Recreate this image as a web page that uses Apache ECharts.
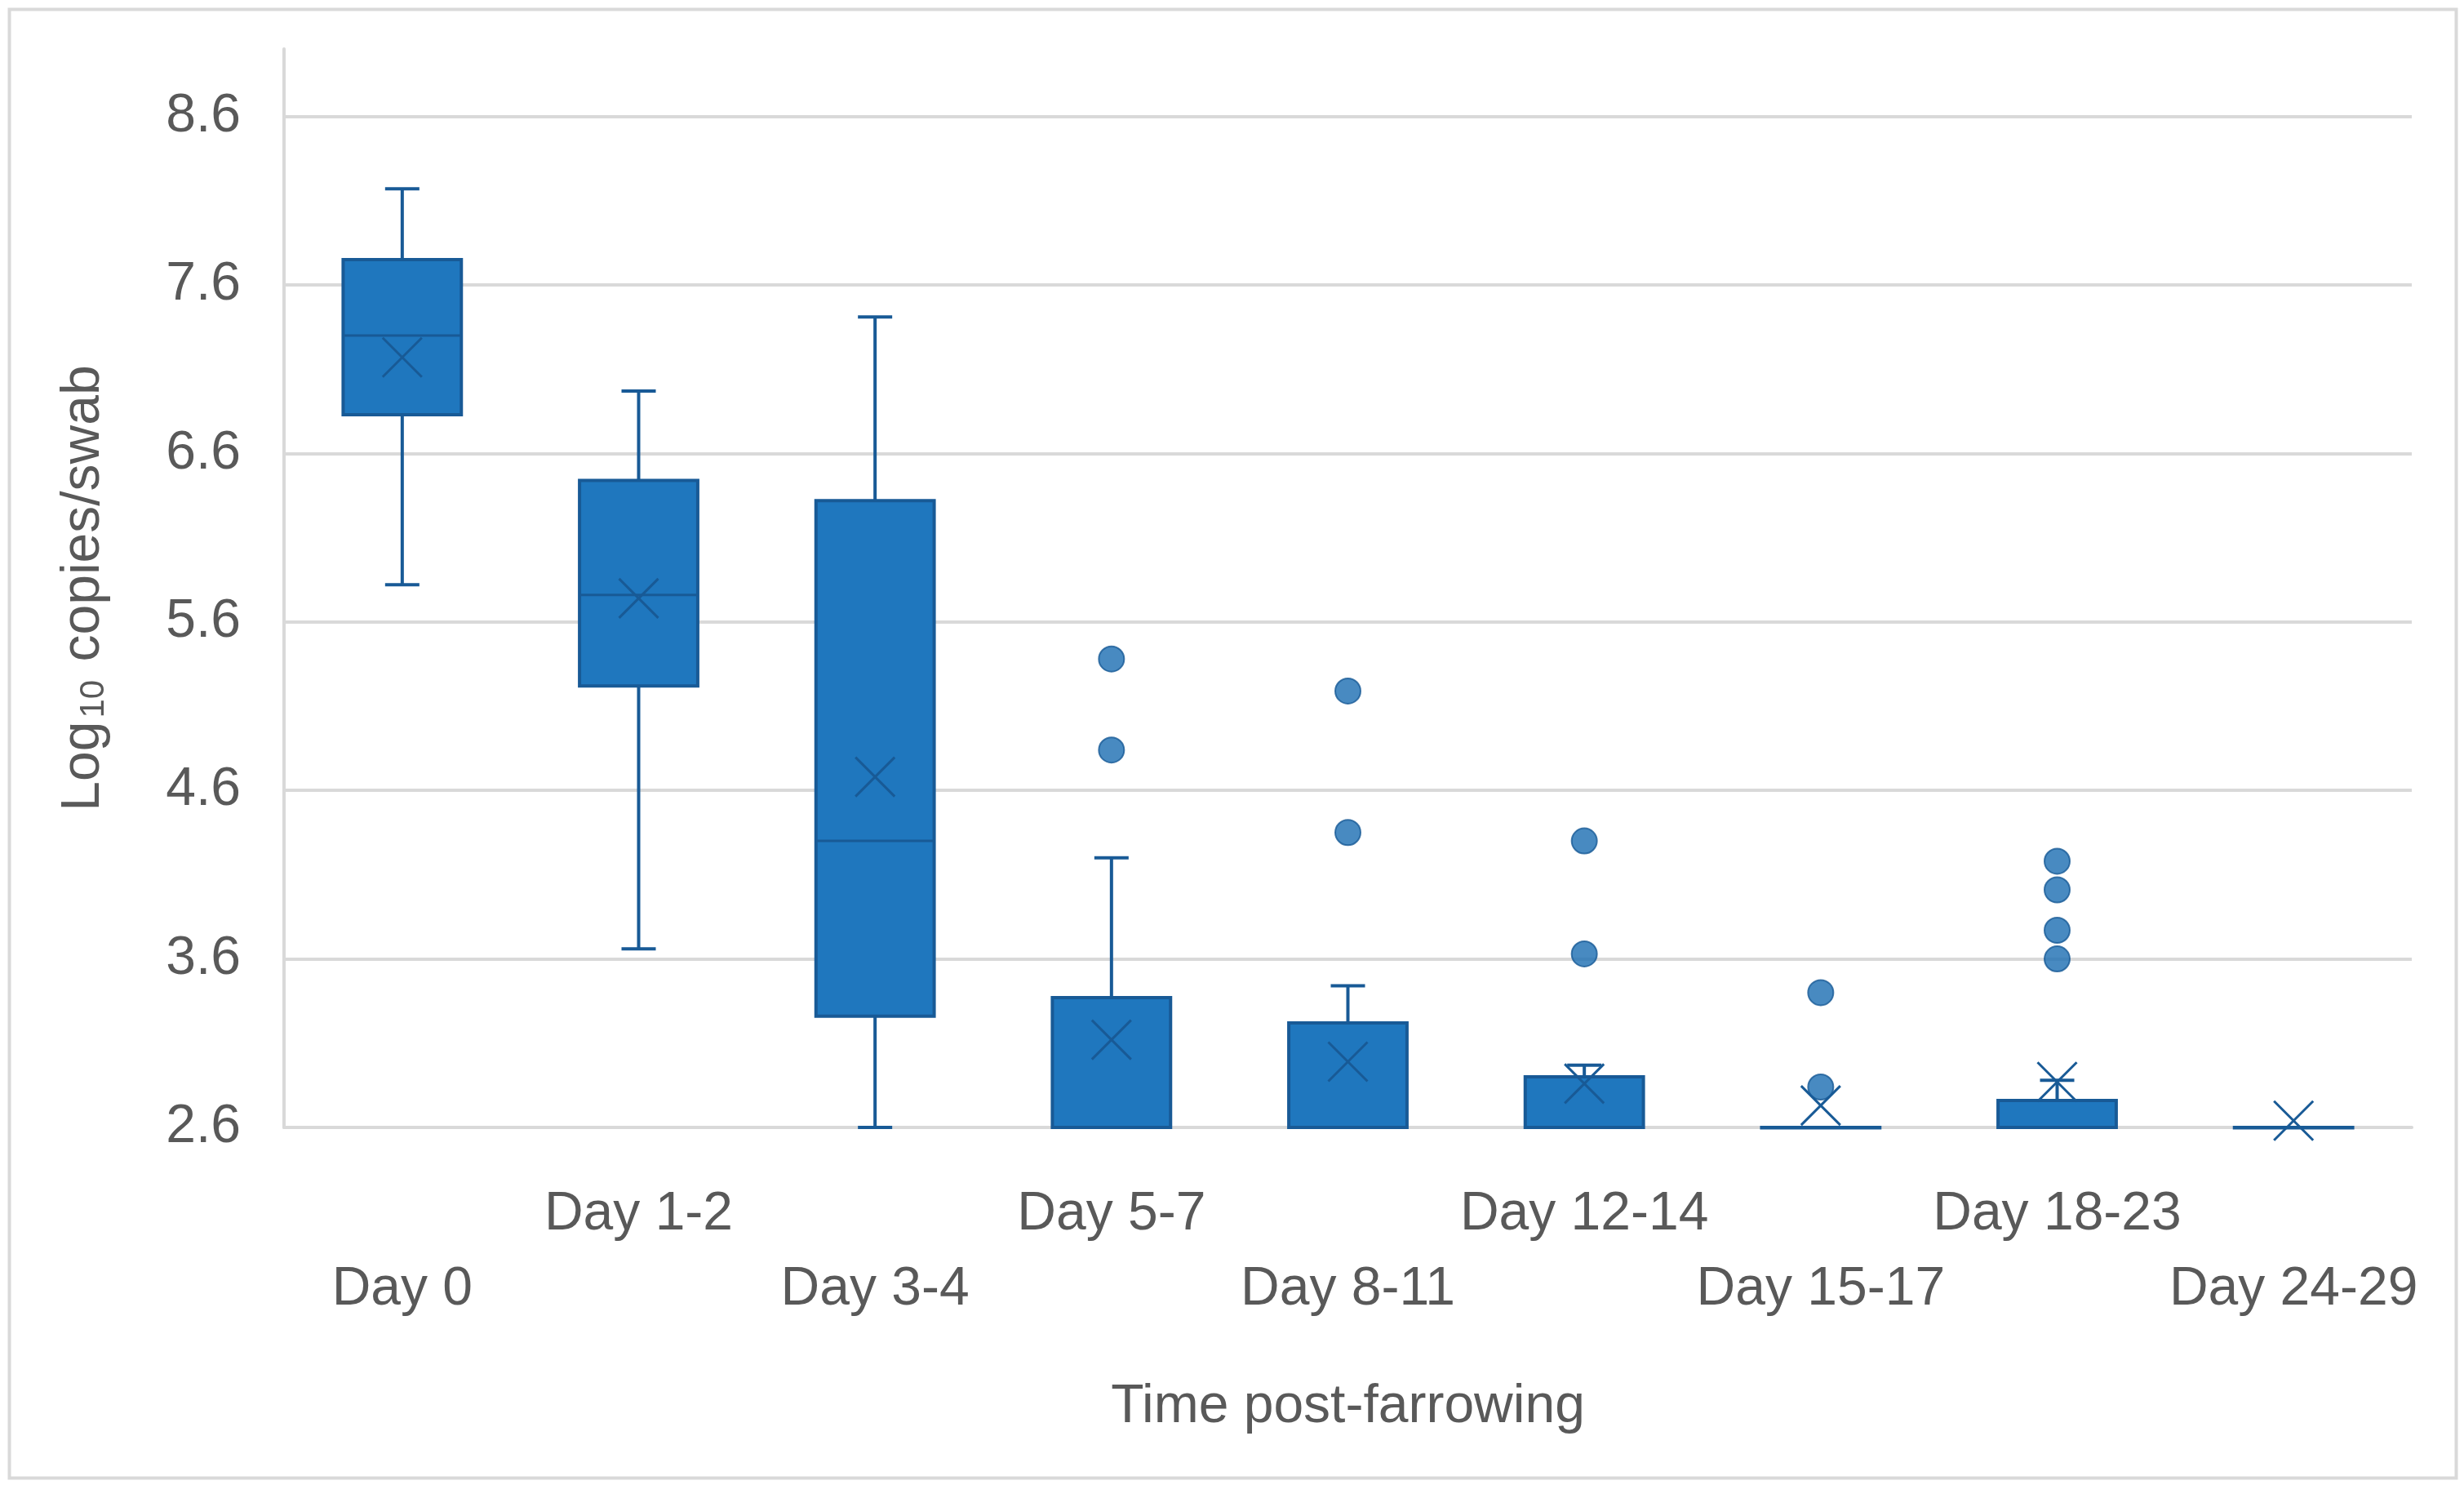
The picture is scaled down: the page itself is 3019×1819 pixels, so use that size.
<!DOCTYPE html>
<html>
<head>
<meta charset="utf-8">
<script src="https://cdn.jsdelivr.net/npm/echarts@6/dist/echarts.min.js"></script>
<style>
html,body{margin:0;padding:0;background:#fff;}
#chart{width:3019px;height:1819px;}
</style>
</head>
<body>
<div id="chart"></div>
<script>
const categories = ['Day 0','Day 1-2','Day 3-4','Day 5-7','Day 8-11','Day 12-14','Day 15-17','Day 18-23','Day 24-29'];
const mins    = [5.82, 3.66, 2.60, 2.60, 2.60, 2.60, 2.60, 2.60, 2.60];
const q1s     = [6.83, 5.22, 3.26, 2.60, 2.60, 2.60, 2.60, 2.60, 2.60];
const medians = [7.30, 5.76, 4.30, 2.60, 2.60, 2.60, 2.60, 2.60, 2.60];
const q3s     = [7.75, 6.44, 6.32, 3.37, 3.22, 2.90, 2.60, 2.76, 2.60];
const maxs    = [8.17, 6.97, 7.41, 4.20, 3.44, 2.97, 2.60, 2.88, 2.60];
const means   = [7.17, 5.74, 4.68, 3.12, 2.99, 2.86, 2.73, 2.87, 2.64];
const outliers = [
  [3, 5.38], [3, 4.84],
  [4, 5.19], [4, 4.35],
  [5, 4.30], [5, 3.63],
  [6, 3.40], [6, 2.84],
  [7, 4.18], [7, 4.01], [7, 3.77], [7, 3.60]
];
const yTicks = {min: 2.6, max: 9.0, interval: 1};

const boxData = categories.map((c, i) => [i, mins[i], q1s[i], medians[i], q3s[i], maxs[i], means[i]]);

const FILL = '#1F77BE';
const EDGE = '#185A96';
const DOT = '#1A6DB2';
const TEXT = '#595959';
const GRID = '#D9D9D9';
const FONT = '"Liberation Sans", Arial, sans-serif';

function renderBox(params, api) {
  const i = api.value(0);
  const band = api.size([1, 0])[0];
  const bw = band * 0.5;
  const cw = band * 0.145;
  const pMin = api.coord([i, api.value(1)]);
  const pQ1 = api.coord([i, api.value(2)]);
  const pMed = api.coord([i, api.value(3)]);
  const pQ3 = api.coord([i, api.value(4)]);
  const pMax = api.coord([i, api.value(5)]);
  const pMean = api.coord([i, api.value(6)]);
  const x = pMed[0];
  const lineStyle = {stroke: EDGE, lineWidth: 4, fill: null};
  const xs = 24;
  return {
    type: 'group',
    children: [
      {type: 'line', shape: {x1: x, y1: pMax[1], x2: x, y2: pQ3[1]}, style: lineStyle},
      {type: 'line', shape: {x1: x - cw / 2, y1: pMax[1], x2: x + cw / 2, y2: pMax[1]}, style: lineStyle},
      {type: 'line', shape: {x1: x, y1: pQ1[1], x2: x, y2: pMin[1]}, style: lineStyle},
      {type: 'line', shape: {x1: x - cw / 2, y1: pMin[1], x2: x + cw / 2, y2: pMin[1]}, style: lineStyle},
      {type: 'rect', shape: {x: x - bw / 2, y: pQ3[1], width: bw, height: Math.max(pQ1[1] - pQ3[1], 0.5)},
        style: {fill: FILL, stroke: EDGE, lineWidth: 4}},
      {type: 'line', shape: {x1: x - bw / 2, y1: pMed[1], x2: x + bw / 2, y2: pMed[1]}, style: {stroke: EDGE, lineWidth: 3}},
      {type: 'line', shape: {x1: x - xs, y1: pMean[1] - xs, x2: x + xs, y2: pMean[1] + xs}, style: {stroke: EDGE, lineWidth: 3}},
      {type: 'line', shape: {x1: x + xs, y1: pMean[1] - xs, x2: x - xs, y2: pMean[1] + xs}, style: {stroke: EDGE, lineWidth: 3}}
    ]
  };
}

const chart = echarts.init(document.getElementById('chart'), null, {renderer: 'canvas'});
chart.setOption({
  backgroundColor: '#ffffff',
  animation: false,
  graphic: [{
    type: 'rect', left: 9, top: 9, silent: true, z: -10,
    shape: {width: 2998, height: 1799},
    style: {fill: null, stroke: GRID, lineWidth: 4}
  }],
  grid: {left: 348, right: 64, top: 60, bottom: 438},
  xAxis: {
    type: 'category',
    data: categories,
    boundaryGap: true,
    axisLine: {show: true, lineStyle: {color: GRID, width: 4}},
    axisTick: {show: false},
    axisLabel: {
      interval: 0,
      margin: 61,
      fontSize: 66,
      lineHeight: 92,
      fontFamily: FONT,
      color: TEXT,
      formatter: (v, idx) => (idx % 2 === 0 ? '\n' + v : v)
    },
    name: 'Time post-farrowing',
    nameLocation: 'middle',
    nameGap: 310,
    nameTextStyle: {fontSize: 66, fontFamily: FONT, color: TEXT}
  },
  yAxis: {
    type: 'value',
    min: yTicks.min,
    max: yTicks.max,
    interval: yTicks.interval,
    axisLine: {show: true, lineStyle: {color: GRID, width: 4}},
    axisTick: {show: false},
    axisLabel: {
      margin: 53,
      fontSize: 66,
      fontFamily: FONT,
      color: TEXT,
      showMaxLabel: false,
      formatter: v => v.toFixed(1)
    },
    splitLine: {show: true, showMaxLine: false, lineStyle: {color: GRID, width: 4}},
    name: '{a|Log}{s|10}{a| copies/swab}',
    nameLocation: 'middle',
    nameGap: 212,
    nameTextStyle: {
      fontFamily: FONT, color: TEXT, fontSize: 66,
      rich: {
        a: {fontSize: 66, fontFamily: FONT, color: TEXT},
        s: {fontSize: 42, fontFamily: FONT, color: TEXT, verticalAlign: 'bottom', padding: [0, 4, 0, 4]}
      }
    }
  },
  series: [
    {
      type: 'custom',
      renderItem: renderBox,
      data: boxData,
      encode: {x: 0, y: [1, 2, 3, 4, 5, 6]},
      z: 2
    },
    {
      type: 'scatter',
      data: outliers,
      symbol: 'circle',
      symbolSize: 31,
      itemStyle: {color: DOT, borderColor: EDGE, borderWidth: 2},
      z: 3
    }
  ]
});
</script>
</body>
</html>
